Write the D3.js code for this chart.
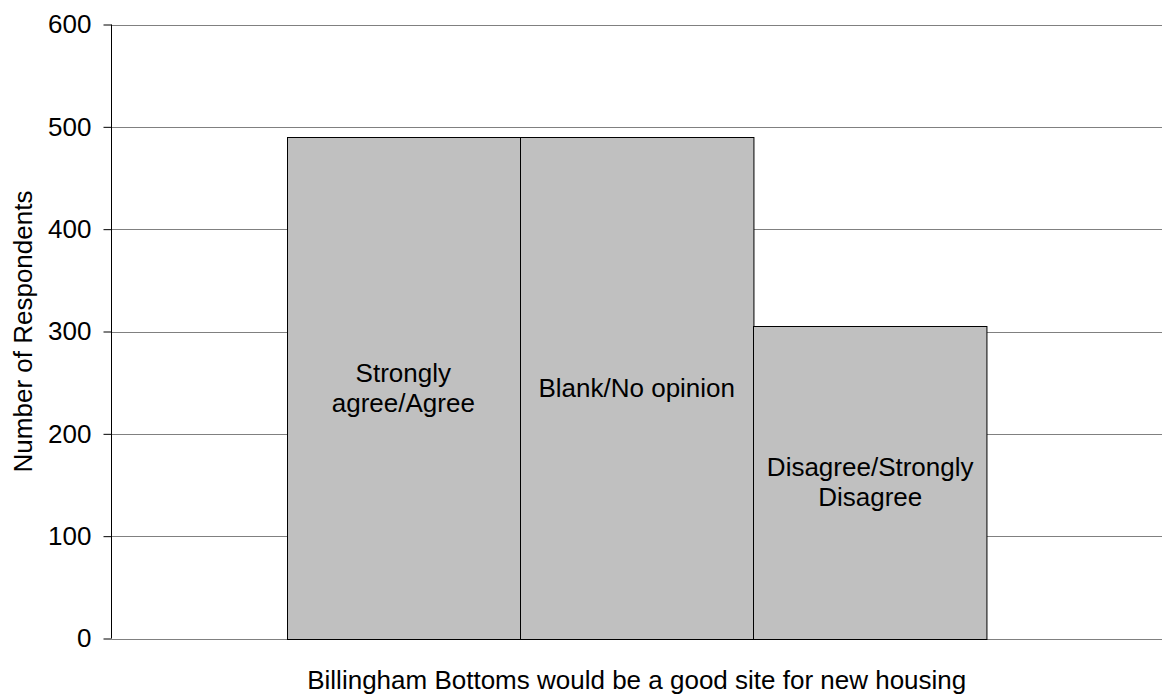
<!DOCTYPE html>
<html>
<head>
<meta charset="utf-8">
<script src="https://cdn.jsdelivr.net/npm/d3@7"></script>
<style>
  html, body { margin: 0; padding: 0; background: #fff; }
  svg { display: block; }
  text { font-family: "Liberation Sans", Arial, Helvetica, sans-serif; fill: #000; }
</style>
</head>
<body>
<svg id="chart" width="1162" height="695"></svg>
<script>
const categories = ["Strongly agree/Agree", "Blank/No opinion", "Disagree/Strongly Disagree"];
const barLabels = [["Strongly", "agree/Agree"], ["Blank/No opinion"], ["Disagree/Strongly", "Disagree"]];
const values = [490, 490, 305];
const yTicks = [0, 100, 200, 300, 400, 500, 600];
const xTitle = "Billingham Bottoms would be a good site for new housing";
const yTitle = "Number of Respondents";

(function () {
const svg = d3.select("#chart");
const pLeft = 111.5, pRight = 1162, pTop = 24.5, pBottom = 638.5;
const fs = 26;

const y = d3.scaleLinear().domain([0, 600]).range([pBottom, pTop]);
const x = d3.scaleBand().domain(categories).range([pLeft, pRight]).paddingInner(0).paddingOuter(0.75);

// gridlines
svg.append("g").selectAll("line").data(yTicks).join("line")
  .attr("x1", pLeft).attr("x2", pRight)
  .attr("y1", d => Math.round(y(d)) + 0.5).attr("y2", d => Math.round(y(d)) + 0.5)
  .attr("stroke", "#808080").attr("stroke-width", 1);

// bars
svg.append("g").selectAll("rect").data(values).join("rect")
  .attr("x", (d, i) => Math.round(x(categories[i])) + 0.5)
  .attr("width", x.bandwidth())
  .attr("y", d => Math.round(y(d)) + 0.5)
  .attr("height", d => Math.round(y(0)) - Math.round(y(d)))
  .attr("fill", "#c0c0c0").attr("stroke", "#000").attr("stroke-width", 1);

// bar labels
barLabels.forEach((lines, i) => {
  const cx = x(categories[i]) + x.bandwidth() / 2;
  const cy = (y(values[i]) + y(0)) / 2;
  const lh = 30;
  const t = svg.append("text").attr("text-anchor", "middle").attr("font-size", fs);
  lines.forEach((ln, j) => {
    t.append("tspan").attr("x", cx)
      .attr("y", cy + (j - (lines.length - 1) / 2) * lh + fs * 0.34)
      .text(ln);
  });
});

// y axis
const yAxis = d3.axisLeft(y).tickValues(yTicks).tickSize(8).tickPadding(12).tickFormat(d3.format("d"));
const ga = svg.append("g").attr("transform", `translate(${pLeft},0)`).call(yAxis);
ga.select(".domain").attr("stroke", "#000").attr("d", `M0,${pTop}V${pBottom}`);
ga.selectAll(".tick line").attr("stroke", "#000");
ga.selectAll(".tick text").attr("font-size", fs).attr("font-family", "Liberation Sans, Arial, sans-serif").attr("fill", "#000");

// axis titles
svg.append("text").attr("x", (pLeft + pRight) / 2).attr("y", 689)
  .attr("text-anchor", "middle").attr("font-size", fs).text(xTitle);
svg.append("text").attr("transform", `translate(32,${(pTop + pBottom) / 2}) rotate(-90)`)
  .attr("text-anchor", "middle").attr("font-size", fs).text(yTitle);
})();
</script>
</body>
</html>
